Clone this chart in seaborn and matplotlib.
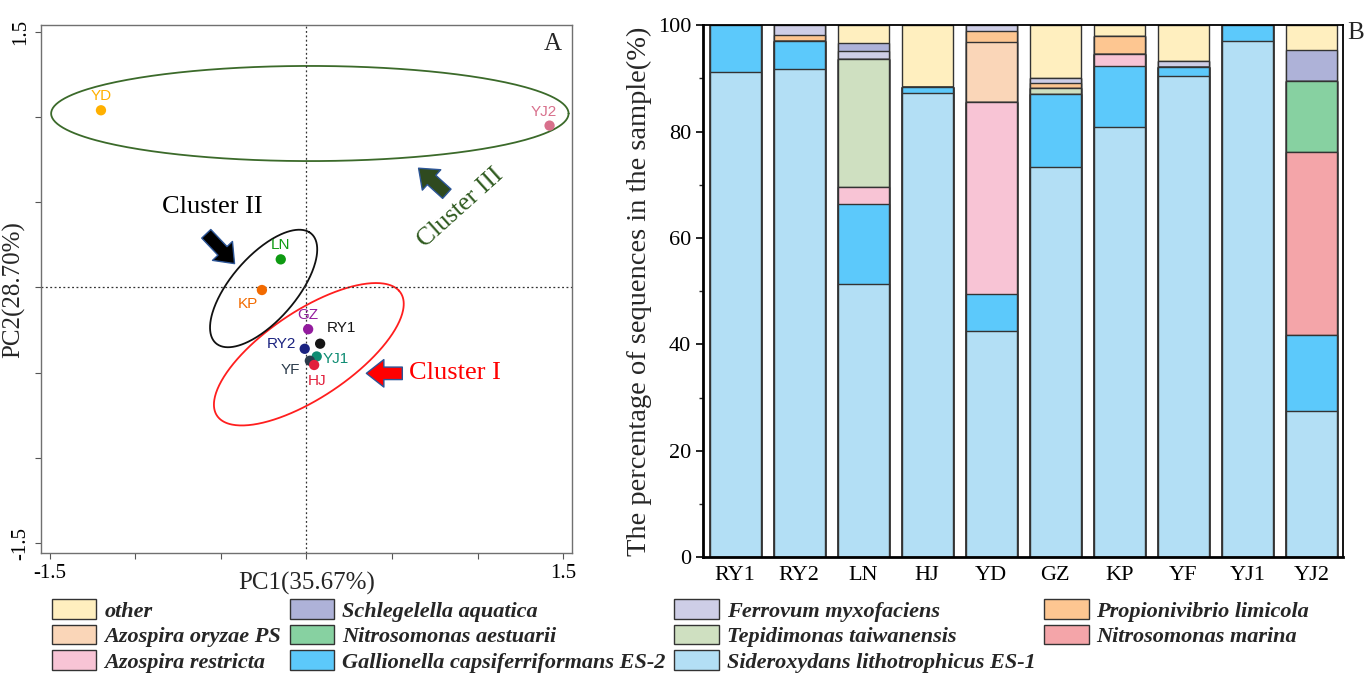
import numpy as np
import pandas as pd
import matplotlib
matplotlib.use('Agg')
import matplotlib.pyplot as plt
import seaborn as sns
from matplotlib.patches import Patch
from matplotlib.ticker import MultipleLocator

# ---- PCA (panel A) ----
sites = ['YD', 'YJ2', 'LN', 'KP', 'GZ', 'RY1', 'RY2', 'YJ1', 'YF', 'HJ']
pc1 = [-1.20, 1.42, -0.15, -0.26, 0.01, 0.08, -0.01, 0.06, 0.02, 0.045]
pc2 = [1.04, 0.95, 0.165, -0.015, -0.245, -0.33, -0.36, -0.405, -0.43, -0.455]

# cluster ellipses: centre x, centre y, semi axis a, semi axis b, angle
cluster_names = ['Cluster I', 'Cluster II', 'Cluster III']
ell_cx = [0.014, -0.25, 0.02]
ell_cy = [-0.392, -0.006, 1.021]
ell_a = [0.680, 0.465, 1.511]
ell_b = [0.278, 0.200, 0.322]
ell_ang = [39.4, 55.0, 0.0]

# ---- relative abundance (panel B) ----
samples = ['RY1', 'RY2', 'LN', 'HJ', 'YD', 'GZ', 'KP', 'YF', 'YJ1', 'YJ2']
species = ['Sideroxydans lithotrophicus ES-1', 'Gallionella capsiferriformans ES-2',
           'Azospira restricta', 'Nitrosomonas marina', 'Tepidimonas taiwanensis',
           'Nitrosomonas aestuarii', 'Azospira oryzae PS', 'Propionivibrio limicola',
           'Ferrovum myxofaciens', 'Schlegelella aquatica', 'other']
sideroxydans = [91.2, 91.7, 51.3, 87.2, 42.6, 73.4, 80.9, 90.5, 97.1, 27.4]
gallionella = [8.8, 5.3, 15.0, 1.1, 6.8, 13.7, 11.5, 1.7, 2.9, 14.3]
az_restricta = [0, 0, 3.2, 0, 36.2, 0, 2.1, 0, 0, 0]
nitro_marina = [0, 0, 0, 0, 0, 0, 0, 0, 0, 34.4]
tepidimonas = [0, 0, 24.1, 0, 0, 1.0, 0, 0, 0, 0]
nitro_aestuarii = [0, 0, 0, 0, 0, 0, 0, 0, 0, 13.4]
az_oryzae = [0, 0, 0, 0, 11.3, 0, 0, 0, 0, 0]
propionivibrio = [0, 1.1, 0, 0, 2.0, 1.0, 3.5, 0, 0, 0]
ferrovum = [0, 1.9, 1.6, 0, 1.1, 1.0, 0, 1.1, 0, 0]
schlegelella = [0, 0, 1.5, 0, 0, 0, 0, 0, 0, 5.9]
other = [0, 0, 3.3, 11.7, 0, 9.9, 2.0, 6.7, 0, 4.6]

layers = [sideroxydans, gallionella, az_restricta, nitro_marina, tepidimonas,
          nitro_aestuarii, az_oryzae, propionivibrio, ferrovum, schlegelella, other]

site_colors = {'YD': '#FFB000', 'YJ2': '#D8708C', 'LN': '#0E9A12', 'KP': '#F26A00',
               'GZ': '#931C9E', 'RY1': '#151515', 'RY2': '#1A2280', 'YJ1': '#0E8C72',
               'YF': '#2B3B4B', 'HJ': '#E2203C'}
label_off = {'YD': (0, 10), 'YJ2': (-4, 10), 'LN': (0, 10), 'KP': (-10, -10),
             'GZ': (0, 10.5), 'RY1': (15, 11), 'RY2': (-17, 3.5), 'YJ1': (14, -2),
             'YF': (-14, -6.5), 'HJ': (2, -11.5)}
ell_colors = ['#FF1E1E', '#111111', '#3B6A2A']
species_colors = ['#B3DFF5', '#5CC9FB', '#F8C4D5', '#F4A5A9', '#CFE0C1',
                  '#87D1A1', '#FAD6B8', '#FDC691', '#CECEE7', '#AEB2D8', '#FFEFBF']

sns.set_style('ticks')
plt.rcParams['font.family'] = ['Liberation Serif', 'DejaVu Serif']

fig = plt.figure(figsize=(13.68, 6.78), dpi=100)
ax1 = fig.add_axes([0.030, 0.184, 0.388, 0.779])
ax2 = fig.add_axes([0.514, 0.178, 0.468, 0.785])

# ---------- panel A ----------
def ellipse_xy(cx, cy, a, b, ang, k=0.867):
    t = np.linspace(0, 2 * np.pi, 300)
    r = np.deg2rad(ang)
    x = cx + a * np.cos(r) * np.cos(t) - b * np.sin(r) * np.sin(t)
    y = cy + (a * np.sin(r) * np.cos(t) + b * np.cos(r) * np.sin(t)) * k
    return x, y

for i in range(len(cluster_names)):
    ex, ey = ellipse_xy(ell_cx[i], ell_cy[i], ell_a[i], ell_b[i], ell_ang[i])
    ax1.plot(ex, ey, color=ell_colors[i], lw=1.3)

ax1.axhline(0, color='#333333', ls=(0, (1.5, 2)), lw=0.9)
ax1.axvline(0, color='#333333', ls=(0, (1.5, 2)), lw=0.9)

pca = pd.DataFrame({'site': sites, 'PC1': pc1, 'PC2': pc2})
sns.scatterplot(data=pca, x='PC1', y='PC2', hue='site', palette=site_colors,
                s=55, edgecolor='none', legend=False, ax=ax1, zorder=3)
for s, x, y in zip(sites, pc1, pc2):
    ax1.annotate(s, (x, y), xytext=label_off[s], textcoords='offset points',
                 ha='center', va='center', color=site_colors[s], fontsize=11,
                 family='Liberation Sans')

arrow_edge = '#2C5597'
def block_arrow(tail, head, fc):
    ax1.annotate('', xy=head, xytext=tail,
                 arrowprops=dict(arrowstyle='simple,head_length=0.7,head_width=1.1,tail_width=0.5',
                                 fc=fc, ec=arrow_edge, lw=1, mutation_scale=18,
                                 shrinkA=0, shrinkB=0))

block_arrow((-0.585, 0.315), (-0.42, 0.14), '#000000')
block_arrow((0.82, 0.55), (0.655, 0.70), '#2F4A1F')
block_arrow((0.56, -0.504), (0.35, -0.504), '#FF0000')

ax1.text(-0.55, 0.47, 'Cluster II', fontsize=19, ha='center', va='center', color='black')
ax1.text(0.90, 0.47, 'Cluster III', fontsize=18.5, ha='center', va='center',
         color='#2F5A1F', rotation=42)
ax1.text(0.60, -0.50, 'Cluster I', fontsize=19, ha='left', va='center', color='#FF0000')
ax1.text(1.49, 1.43, 'A', fontsize=18, ha='right', va='center')

ax1.set_xlim(-1.55, 1.55)
ax1.set_ylim(-1.56, 1.54)
ticks = np.arange(-1.5, 1.51, 0.5)
ax1.set_xticks(ticks)
ax1.set_yticks(ticks)
tick_lab = ['-1.5', '', '', '', '', '', '1.5']
ax1.set_xticklabels(tick_lab, fontsize=15)
ax1.set_yticklabels(tick_lab, fontsize=15, rotation=90, va='center')
ax1.tick_params(colors='#555555', labelcolor='black', length=4, width=0.8)
for sp in ax1.spines.values():
    sp.set_color('#707070')
    sp.set_linewidth(1)
ax1.set_xlabel('PC1(35.67%)', fontsize=18, labelpad=-8)
ax1.set_ylabel('PC2(28.70%)', fontsize=18, labelpad=-10)

# ---------- panel B ----------
cum = np.cumsum(np.array(layers, dtype=float), axis=0)
for i in range(len(layers) - 1, -1, -1):
    sns.barplot(x=samples, y=cum[i], order=samples, color=species_colors[i],
                saturation=1, edgecolor='#333333', linewidth=1, width=0.8,
                errorbar=None, ax=ax2)

ax2.set_xlim(-0.5, 9.5)
ax2.set_ylim(0, 100)
ax2.yaxis.set_major_locator(MultipleLocator(20))
ax2.yaxis.set_minor_locator(MultipleLocator(10))
ax2.tick_params(axis='both', which='major', labelsize=16, length=5, width=1.2, colors='black')
ax2.tick_params(axis='y', which='minor', length=3, width=1)
ax2.tick_params(axis='x', length=0, pad=6)
for sp in ax2.spines.values():
    sp.set_color('black')
    sp.set_linewidth(1.3)
ax2.spines['bottom'].set_linewidth(2)
ax2.spines['left'].set_linewidth(2)
ax2.set_xlabel('')
ax2.set_ylabel('The percentage of sequences in the sample(%)', fontsize=20.5, labelpad=4)
ax2.text(1.006, 0.985, 'B', transform=ax2.transAxes, fontsize=18, ha='left', va='center')

# legend: reverse of stacking order, filled row-wise in 4 columns
handles = [Patch(facecolor=species_colors[i], edgecolor='#333333', lw=1)
           for i in range(len(species) - 1, -1, -1)]
labels = species[::-1]
ncol = 4
nrow = int(np.ceil(len(labels) / ncol))
order = [r * ncol + c for c in range(ncol) for r in range(nrow) if r * ncol + c < len(labels)]
fig.legend([handles[j] for j in order], [labels[j] for j in order], ncol=ncol,
           loc='upper left', bbox_to_anchor=(0.038, 0.116), frameon=False,
           prop=dict(family='Liberation Serif', weight='bold', style='italic', size=16),
           handlelength=2.0, handleheight=0.95, handletextpad=0.35, columnspacing=0.4,
           labelspacing=0.15, borderpad=0, borderaxespad=0)

fig.savefig('out.png', dpi=100)
